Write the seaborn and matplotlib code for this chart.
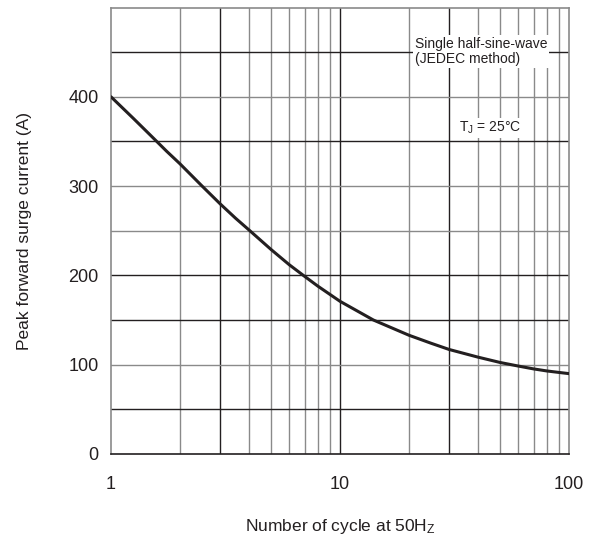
import numpy as np
import pandas as pd
import matplotlib
matplotlib.use("Agg")
import matplotlib.pyplot as plt
import seaborn as sns

# Data
cycles = [1, 1.25, 1.5, 1.75, 2, 2.5, 3, 3.5, 4, 5, 6, 7, 8, 10, 14, 20, 25, 30, 40, 50, 60, 70, 80, 90, 100]
current = [400, 376, 356, 339, 325, 300, 280, 264, 251, 229, 212, 199, 188, 171, 150, 133, 124, 117,
           108.5, 102.5, 98.5, 95.3, 93, 91.4, 90]

x_ticks = [1, 10, 100]
x_tick_labels = ["1", "10", "100"]
y_ticks = [0, 100, 200, 300, 400]
minor_x = [2, 3, 4, 5, 6, 7, 8, 9, 10, 20, 30, 40, 50, 60, 70, 80, 90]
dark_x = [3, 10, 30]
grid_y = [50, 100, 150, 200, 250, 300, 350, 400, 450]
dark_y = [50, 150, 200, 350, 450]

sns.set_style("white")
plt.rcParams['font.family'] = ['Liberation Sans', 'DejaVu Sans']
plt.rcParams['mathtext.fontset'] = 'custom'
plt.rcParams['mathtext.rm'] = 'Liberation Sans'
plt.rcParams['mathtext.default'] = 'regular'

df = pd.DataFrame({"cycles": cycles, "current": current})

fig = plt.figure(figsize=(5.98, 5.42), dpi=100)
ax = fig.add_axes([111/598, 1 - 454/542, (569 - 111)/598, (454 - 7.5)/542])

# grid lines (scanned datasheet look: some dark, some grey)
for xv in minor_x:
    c = '#231f20' if xv in dark_x else '#8a8a8a'
    ax.axvline(xv, color=c, lw=1.0, zorder=1)
for yv in grid_y:
    c = '#231f20' if yv in dark_y else '#8a8a8a'
    ax.axhline(yv, color=c, lw=1.0, zorder=1)

sns.lineplot(data=df, x="cycles", y="current", ax=ax, color='#231f20', lw=2.2, zorder=3)

ax.set_xscale('log')
ax.set_xlim(1, 100)
ax.set_ylim(0, 500)
ax.set_xticks(x_ticks)
ax.set_xticklabels(x_tick_labels)
ax.xaxis.set_minor_locator(matplotlib.ticker.NullLocator())
ax.set_yticks(y_ticks)
ax.tick_params(axis='x', length=0, pad=16, labelsize=13, colors='#231f20')
ax.tick_params(axis='y', length=0, pad=9, labelsize=13, colors='#231f20')

for s in ax.spines.values():
    s.set_color('#8a8a8a')
    s.set_linewidth(1.2)
ax.spines['bottom'].set_color('#231f20')

ax.set_xlabel("Number of cycle at 50H$_{Z}$", fontsize=12.5, color='#231f20', labelpad=17)
ax.set_ylabel("Peak forward surge current (A)", fontsize=12.5, color='#231f20', labelpad=26)

ax.text(21.2, 451, "Single half-sine-wave\n(JEDEC method)", fontsize=10, color='#231f20',
        ha='left', va='center', multialignment='left', linespacing=1.05, zorder=4,
        bbox=dict(facecolor='white', edgecolor='none', pad=1.5))
ax.text(45, 365, "T$_{J}$ = 25°C", fontsize=10, color='#231f20',
        ha='center', va='center', zorder=4,
        bbox=dict(facecolor='white', edgecolor='none', pad=1.5))

fig.savefig("out.png", dpi=100)
